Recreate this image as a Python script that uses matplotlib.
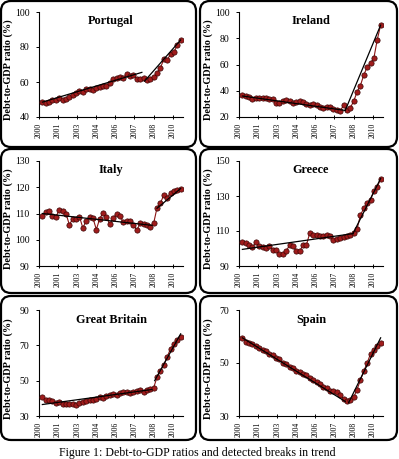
import numpy as np
import matplotlib
matplotlib.use("Agg")
import matplotlib.pyplot as plt
from matplotlib.patches import FancyBboxPatch

plt.rcParams['font.family'] = ['Liberation Serif', 'DejaVu Serif']

# --- data (quarterly points) ---
tick_labels = ['2000', '2001', '2003', '2004', '2006', '2007', '2008', '2010']

portugal = [48.5, 48, 48.5, 49.5, 50, 51, 50, 50.5, 51.5, 52.5,
            54, 55, 54.5, 56, 56, 55.5, 56.5, 57, 57.5, 58,
            59.5, 61.5, 62.5, 63, 62.5, 64.5, 63.5, 64, 62, 62,
            62.5, 61, 62, 63, 65, 68, 73, 72.5, 76, 77,
            81, 84]
ireland = [37, 36, 35, 34, 34.5, 34.5, 34.5, 34.5, 34, 34,
           30.5, 31, 32.5, 33, 32.5, 31, 31.5, 32, 31.5, 30,
           29.5, 30, 29.5, 28, 27, 28, 27.5, 26, 25, 24.5,
           29, 25, 27, 32, 39, 44, 52, 58, 61, 65,
           79, 90]
italy = [109, 110.5, 111, 109, 108.7, 111.3, 111, 110, 105.7, 108,
         108, 108.8, 104.5, 107.2, 108.8, 108.3, 103.9, 108, 110.3, 108.6,
         106, 108.2, 110, 109.2, 106.6, 107.3, 107.3, 105.8, 103.6, 106.2,
         106, 105.5, 105, 106.3, 112.2, 114, 117, 116, 118, 118.5,
         119, 119.4]
greece = [103.5, 103, 102, 101, 103.5, 101.5, 101, 100.5, 101.5, 99,
          99, 97, 97, 98.5, 102, 101.5, 98.5, 98.5, 102, 102,
          109, 108, 108, 107, 107, 108, 107, 105, 105.5, 106,
          106.5, 107, 108, 109, 111, 119, 123, 126, 128, 133,
          135, 140]
britain = [41, 39, 39, 38.5, 37.5, 38, 37, 37, 37, 37,
           36.5, 37.5, 38, 38.5, 39, 39, 39.5, 41, 40, 41.5,
           42, 42.5, 42, 43, 43.5, 43.5, 43, 43.5, 44, 44.5,
           43.5, 45, 45.5, 46, 52, 55.5, 59, 63.5, 68, 71,
           73, 75]
spain = [59.5, 58, 57.5, 57, 56.5, 55.5, 55, 54.5, 53.5, 53,
         52, 51.5, 50, 49.5, 48.5, 48, 47, 46.5, 46, 45.5,
         44.5, 43.5, 43, 42, 41, 40.5, 39.5, 39.5, 39, 38,
         36.5, 35.5, 36, 37, 40, 43.5, 47, 50, 53.5, 55,
         56.5, 57.5]

# trend segments: (start index, end index, start value, end value)
trends = {
    'Portugal':      [(0, 29.5, 48.5, 65.5), (30.3, 41, 60.5, 84)],
    'Ireland':       [(0, 30.5, 36, 25), (30.5, 41, 25, 90)],
    'Italy':         [(0, 32.5, 110, 105.5), (34, 41, 112, 119.5)],
    'Greece':        [(0, 32.8, 99.5, 108.5), (32.8, 41, 108.5, 140)],
    'Great Britain': [(0, 32.5, 36.5, 45), (33.3, 41, 50, 76.5)],
    'Spain':         [(0, 30.5, 59.5, 35.5), (31.5, 41, 35, 59.5)],
}

panels = [
    ('Portugal', portugal, (40, 100), 20),
    ('Ireland', ireland, (20, 100), 20),
    ('Italy', italy, (90, 130), 10),
    ('Greece', greece, (90, 150), 20),
    ('Great Britain', britain, (30, 90), 20),
    ('Spain', spain, (30, 70), 20),
]

W, H = 399, 459
fig = plt.figure(figsize=(W / 100, H / 100), dpi=100, facecolor='white')

# boxes and axes in pixels
cols = [(1, 196, 39, 183), (200, 397, 239, 383)]
rows = [(1, 147, 12, 117), (149, 293, 161, 266), (296, 440, 310, 416)]

tick_pos = [-1 + 5.66 * k for k in range(len(tick_labels))]

for n, (name, vals, ylim, ystep) in enumerate(panels):
    bx0, bx1, L, R = cols[n % 2]
    by0, by1, T, B = rows[n // 2]

    # rounded frame, in inches (100 px per inch)
    box = FancyBboxPatch((bx0 / 100, (H - by1) / 100), (bx1 - bx0) / 100, (by1 - by0) / 100,
                         boxstyle="round,pad=0,rounding_size=0.1",
                         transform=fig.dpi_scale_trans, facecolor='none',
                         edgecolor='black', linewidth=1.6, zorder=0)
    fig.patches.append(box)

    ax = fig.add_axes([L / W, 1 - B / H, (R - L) / W, (B - T) / H])
    ax.set_facecolor('none')
    x = np.arange(len(vals))
    ax.plot(x, vals, color='#8b1414', linewidth=0.8, zorder=2)
    ax.plot(x, vals, 'o', markersize=3.8, markerfacecolor='#a01c1c',
            markeredgecolor='#3a0505', markeredgewidth=0.5, zorder=3)
    for x0, x1, y0, y1 in trends[name]:
        ax.plot([x0, x1], [y0, y1], color='black', linewidth=0.9, zorder=4)

    ax.set_xlim(-1, 41.7)
    ax.set_ylim(*ylim)
    ax.set_yticks(np.arange(ylim[0], ylim[1] + 1, ystep))
    ax.set_xticks(tick_pos)
    ax.set_xticklabels(tick_labels, rotation=90, fontsize=5.5)
    ax.tick_params(axis='y', labelsize=7, direction='out', length=2.4, width=0.7, pad=4.5)
    ax.tick_params(axis='x', direction='inout', length=3, width=0.7, pad=2.5)
    for s in ['top', 'right']:
        ax.spines[s].set_visible(False)
    for s in ['left', 'bottom']:
        ax.spines[s].set_linewidth(0.8)

    ax.set_ylabel('Debt-to-GDP ratio (%)', fontsize=7.4, fontweight='bold')
    ax.yaxis.set_label_coords(-26 / (R - L), 0.45)
    ax.text(0.5, 0.91, name, transform=ax.transAxes, ha='center', va='center',
            fontsize=8.8, fontweight='bold')

fig.text(197 / W, 1 - 453 / H, 'Figure 1: Debt-to-GDP ratios and detected breaks in trend',
         ha='center', va='center', fontsize=8.6)

fig.savefig('out.png', dpi=100, facecolor='white')
